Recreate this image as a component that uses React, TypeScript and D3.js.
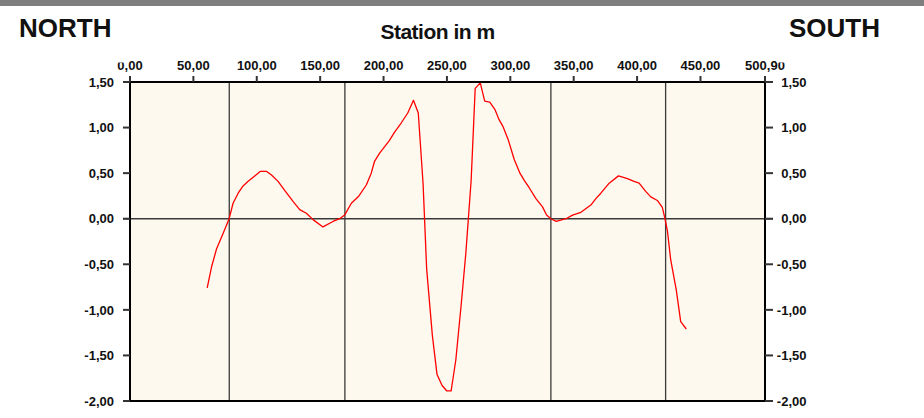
import React from 'react';
import * as d3 from 'd3';

// Profile stations (m) and measured values along the line
const stations = [
  60.9, 64.3, 68.3, 73.5, 78.2, 81.3, 85.3, 89.2, 93.2, 98.4, 102.9, 107.6, 111.6, 116.8,
  122.0, 128.6, 133.9, 139.1, 144.4, 152.2, 160.1, 165.4, 169.3, 174.6, 180.6, 186.4, 190.3,
  192.9, 196.9, 204.7, 208.7, 213.9, 219.1, 223.6, 227.4, 231.2, 234.0, 238.5, 242.2, 246.2,
  249.9, 253.3, 257.0, 261.2, 264.9, 269.1, 272.3, 276.3, 279.8, 283.8, 287.8, 291.0, 294.3,
  298.5, 303.1, 307.6, 311.0, 314.9, 320.2, 325.4, 328.6, 332.0, 336.2, 343.9, 349.1, 355.7,
  363.5, 367.5, 371.4, 378.0, 385.3, 392.4, 397.6, 401.6, 406.8, 410.8, 416.0, 419.9, 422.0,
  424.0, 426.5, 430.9, 434.4, 438.8,
];
const values = [
  -0.76, -0.53, -0.33, -0.16, 0.0, 0.17, 0.28, 0.36, 0.41, 0.47, 0.52, 0.52, 0.48, 0.41,
  0.31, 0.19, 0.1, 0.06, -0.01, -0.09, -0.03, 0.0, 0.04, 0.17, 0.25, 0.37, 0.5,
  0.63, 0.72, 0.86, 0.95, 1.05, 1.16, 1.3, 1.16, 0.38, -0.55, -1.28, -1.71, -1.83,
  -1.89, -1.89, -1.55, -0.95, -0.38, 0.42, 1.43, 1.49, 1.29, 1.28, 1.2, 1.09, 1.01,
  0.86, 0.65, 0.5, 0.42, 0.34, 0.22, 0.13, 0.04, 0.0, -0.03, 0.0, 0.04, 0.07,
  0.15, 0.22, 0.28, 0.39, 0.47, 0.44, 0.41, 0.39, 0.3, 0.24, 0.2, 0.125, 0.0,
  -0.14, -0.45, -0.78, -1.13, -1.21,
];

// Section boundaries marked along the profile
const markerStations = [78.3, 169.5, 332.0, 422.5];

const xTicks = [0, 50, 100, 150, 200, 250, 300, 350, 400, 450, 500.9];
const yTicks = [1.5, 1.0, 0.5, 0.0, -0.5, -1.0, -1.5, -2.0];

const W = 924;
const H = 418;
const plot = { left: 130, right: 765, top: 82, bottom: 401 };

const fmt = (v: number) => v.toFixed(2).replace('.', ',');

const FONT = "'Liberation Sans', Arial, Helvetica, sans-serif";

export default function App() {
  const x = d3.scaleLinear().domain([0, 500.9]).range([plot.left, plot.right]);
  const y = d3.scaleLinear().domain([-2, 1.5]).range([plot.bottom, plot.top]);

  const pts: [number, number][] = stations.map((s, i) => [s, values[i]]);
  const line = d3
    .line<[number, number]>()
    .x((d) => x(d[0]))
    .y((d) => y(d[1]));

  const tickColor = '#333';

  return (
    <svg
      width={W}
      height={H}
      viewBox={`0 0 ${W} ${H}`}
      style={{ position: 'absolute', left: 0, top: 0, background: '#fff' }}
      fontFamily={FONT}
    >
      <rect x={0} y={0} width={W} height={H} fill="#fff" />
      <rect x={0} y={0} width={W} height={6} fill="#7f7f7f" />

      {/* plot background */}
      <rect
        x={plot.left}
        y={plot.top}
        width={plot.right - plot.left}
        height={plot.bottom - plot.top}
        fill="#fef9ee"
      />

      {/* section markers */}
      {markerStations.map((s) => (
        <line
          key={`m${s}`}
          x1={x(s)}
          x2={x(s)}
          y1={plot.top}
          y2={plot.bottom}
          stroke="#3a3a3a"
          strokeWidth={1.3}
        />
      ))}

      {/* zero line, extending through both side ticks */}
      <line
        x1={plot.left - 7}
        x2={plot.right + 8}
        y1={y(0)}
        y2={y(0)}
        stroke="#3a3a3a"
        strokeWidth={1.5}
      />

      {/* profile curve */}
      <path d={line(pts) ?? ''} fill="none" stroke="#ff0000" strokeWidth={1.3} strokeLinejoin="round" />

      {/* frame */}
      <rect
        x={plot.left}
        y={plot.top}
        width={plot.right - plot.left}
        height={plot.bottom - plot.top}
        fill="none"
        stroke="#000"
        strokeWidth={2}
      />

      {/* left axis */}
      {yTicks.map((t) => (
        <g key={`l${t}`}>
          <line x1={plot.left - 7} x2={plot.left} y1={y(t)} y2={y(t)} stroke={tickColor} strokeWidth={2} />
          <text
            x={114}
            y={y(t)}
            dy="0.36em"
            textAnchor="end"
            fontSize={13}
            fontWeight="bold"
            fill="#111"
          >
            {fmt(t)}
          </text>
        </g>
      ))}

      {/* right axis */}
      {yTicks.map((t) => (
        <g key={`r${t}`}>
          <line x1={plot.right} x2={plot.right + 8} y1={y(t)} y2={y(t)} stroke={tickColor} strokeWidth={2} />
          <text
            x={806.5}
            y={y(t)}
            dy="0.36em"
            textAnchor="end"
            fontSize={13}
            fontWeight="bold"
            fill="#111"
          >
            {fmt(t)}
          </text>
        </g>
      ))}

      {/* top axis */}
      {xTicks.map((t) => (
        <g key={`t${t}`}>
          <line x1={x(t)} x2={x(t)} y1={plot.top - 6} y2={plot.top} stroke={tickColor} strokeWidth={2} />
          <text
            x={x(t)}
            y={70}
            textAnchor="middle"
            fontSize={13}
            fontWeight="bold"
            fill="#111"
          >
            {fmt(t)}
          </text>
        </g>
      ))}

      {/* heading boxes */}
      <rect x={0} y={6} width={126} height={56.5} fill="#fff" />
      <rect x={776.5} y={6} width={W - 776.5} height={56.5} fill="#fff" />

      <text x={19} y={37} fontSize={26} fontWeight="bold" fill="#111">
        NORTH
      </text>
      <text
        x={437.5}
        y={39}
        textAnchor="middle"
        fontSize={21}
        fontWeight="bold"
        letterSpacing={-0.5}
        fill="#111"
      >
        Station in m
      </text>
      <text x={789} y={37} fontSize={26} fontWeight="bold" fill="#111">
        SOUTH
      </text>
    </svg>
  );
}
